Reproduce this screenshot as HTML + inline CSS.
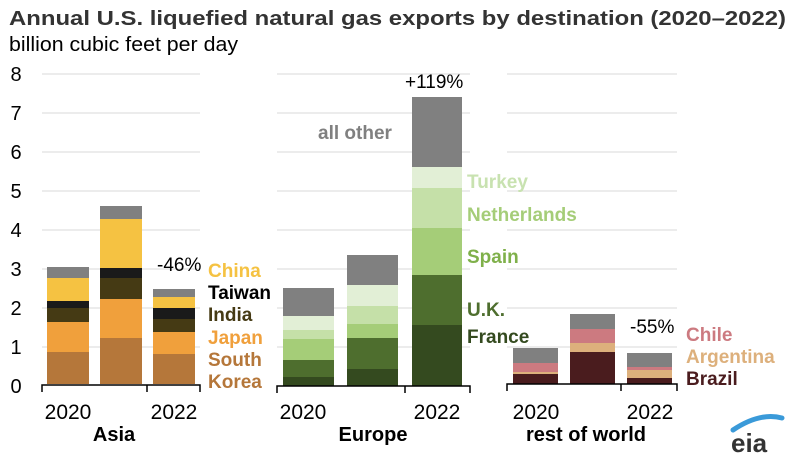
<!DOCTYPE html>
<html><head><meta charset="utf-8"><style>
body{margin:0;background:#fff}
svg{display:block;font-family:"Liberation Sans",Arial,sans-serif}
</style></head><body>
<svg width="800" height="459" viewBox="0 0 800 459">
<text x="9" y="25" font-size="20" font-weight="bold" fill="#333" textLength="777" lengthAdjust="spacingAndGlyphs">Annual U.S. liquefied natural gas exports by destination (2020–2022)</text>
<text x="9" y="51" font-size="20" fill="#000" textLength="229" lengthAdjust="spacingAndGlyphs">billion cubic feet per day</text>
<g font-size="20" fill="#000" text-anchor="middle">
<text x="16" y="81">8</text><text x="16" y="120">7</text><text x="16" y="159">6</text><text x="16" y="198">5</text><text x="16" y="237">4</text><text x="16" y="276">3</text><text x="16" y="315">2</text><text x="16" y="354">1</text><text x="16" y="393">0</text>
</g>
<g stroke="#d9d9d9" stroke-width="1">
<path d="M42 74H200M42 113H200M42 152H200M42 191H200M42 230H200M42 269H200M42 308H200M42 347H200"/>
<path d="M277 74H470M277 113H470M277 152H470M277 191H470M277 230H470M277 269H470M277 308H470M277 347H470"/>
<path d="M507 74H677M507 113H677M507 152H677M507 191H677M507 230H677M507 269H677M507 308H677M507 347H677"/>
</g>
<g>
<rect x="47" y="267" width="42" height="11" fill="#808080"/><rect x="47" y="278" width="42" height="23" fill="#f5c242"/><rect x="47" y="301" width="42" height="7" fill="#1a1a1a"/><rect x="47" y="308" width="42" height="14" fill="#453a14"/><rect x="47" y="322" width="42" height="30" fill="#f0a03c"/><rect x="47" y="352" width="42" height="32" fill="#b5773a"/>
<rect x="100" y="206" width="42" height="13" fill="#808080"/><rect x="100" y="219" width="42" height="49" fill="#f5c242"/><rect x="100" y="268" width="42" height="10" fill="#1a1a1a"/><rect x="100" y="278" width="42" height="21" fill="#453a14"/><rect x="100" y="299" width="42" height="39" fill="#f0a03c"/><rect x="100" y="338" width="42" height="46" fill="#b5773a"/>
<rect x="153" y="289" width="42" height="8" fill="#808080"/><rect x="153" y="297" width="42" height="11" fill="#f5c242"/><rect x="153" y="308" width="42" height="11" fill="#1a1a1a"/><rect x="153" y="319" width="42" height="13" fill="#453a14"/><rect x="153" y="332" width="42" height="22" fill="#f0a03c"/><rect x="153" y="354" width="42" height="30" fill="#b5773a"/>
</g>
<g>
<rect x="283" y="288" width="51" height="28" fill="#808080"/><rect x="283" y="316" width="51" height="14" fill="#e2efd6"/><rect x="283" y="330" width="51" height="9" fill="#c5e0a8"/><rect x="283" y="339" width="51" height="21" fill="#a5cd78"/><rect x="283" y="360" width="51" height="17" fill="#4e6e2e"/><rect x="283" y="377" width="51" height="9" fill="#344a1f"/>
<rect x="347" y="255" width="51" height="30" fill="#808080"/><rect x="347" y="285" width="51" height="21" fill="#e2efd6"/><rect x="347" y="306" width="51" height="18" fill="#c5e0a8"/><rect x="347" y="324" width="51" height="14" fill="#a5cd78"/><rect x="347" y="338" width="51" height="31" fill="#4e6e2e"/><rect x="347" y="369" width="51" height="17" fill="#344a1f"/>
<rect x="412" y="97" width="50" height="70" fill="#808080"/><rect x="412" y="167" width="50" height="21" fill="#e2efd6"/><rect x="412" y="188" width="50" height="40" fill="#c5e0a8"/><rect x="412" y="228" width="50" height="47" fill="#a5cd78"/><rect x="412" y="275" width="50" height="50" fill="#4e6e2e"/><rect x="412" y="325" width="50" height="61" fill="#344a1f"/>
</g>
<g>
<rect x="513" y="348" width="45" height="15" fill="#808080"/><rect x="513" y="363" width="45" height="9" fill="#cc7a80"/><rect x="513" y="372" width="45" height="2" fill="#ddb07c"/><rect x="513" y="374" width="45" height="10" fill="#4a1c1e"/>
<rect x="570" y="314" width="45" height="15" fill="#808080"/><rect x="570" y="329" width="45" height="14" fill="#cc7a80"/><rect x="570" y="343" width="45" height="9" fill="#ddb07c"/><rect x="570" y="352" width="45" height="32" fill="#4a1c1e"/>
<rect x="627" y="353" width="45" height="14" fill="#808080"/><rect x="627" y="367" width="45" height="3" fill="#cc7a80"/><rect x="627" y="370" width="45" height="8" fill="#ddb07c"/><rect x="627" y="378" width="45" height="6" fill="#4a1c1e"/>
</g>
<g stroke="#000" stroke-width="1.5" fill="none">
<path d="M42 392V385H200V392M147 385V392"/>
<path d="M277 393V386H470V393M405 386V393"/>
<path d="M507 391V384H677V391M621 384V391"/>
</g>
<g font-size="21" fill="#000" text-anchor="middle">
<text x="68" y="419">2020</text><text x="174" y="419">2022</text>
<text x="303" y="419">2020</text><text x="437" y="419">2022</text>
<text x="536" y="419">2020</text><text x="650" y="419">2022</text>
</g>
<g font-size="20" font-weight="bold" fill="#000" text-anchor="middle">
<text x="114" y="441">Asia</text><text x="373" y="441">Europe</text><text x="586" y="441">rest of world</text>
</g>
<g font-size="19" fill="#000">
<text x="157" y="271">-46%</text><text x="405" y="88">+119%</text><text x="630" y="333">-55%</text>
</g>
<g font-size="19" font-weight="bold">
<text x="208" y="277" fill="#f5c242">China</text>
<text x="208" y="299" fill="#000">Taiwan</text>
<text x="208" y="321" fill="#453a14">India</text>
<text x="208" y="344" fill="#f0a03c">Japan</text>
<text x="208" y="366" fill="#b5773a">South</text>
<text x="208" y="388" fill="#b5773a">Korea</text>
<text x="318" y="139" fill="#808080">all other</text>
<text x="467" y="188" fill="#c8e2b0">Turkey</text>
<text x="467" y="221" fill="#a5cd78">Netherlands</text>
<text x="467" y="263" fill="#7fb04a">Spain</text>
<text x="467" y="316" fill="#4e6e2e">U.K.</text>
<text x="467" y="343" fill="#344a1f">France</text>
<text x="686" y="341" fill="#cc7a80">Chile</text>
<text x="686" y="363" fill="#ddb07c">Argentina</text>
<text x="686" y="385" fill="#4a1c1e">Brazil</text>
</g>
<path d="M733 430 Q760 412 782 418" stroke="#3a9ad9" stroke-width="5" fill="none" stroke-linecap="round"/>
<text x="731" y="452" font-size="26" fill="#333" font-weight="bold">eia</text>
</svg>
</body></html>
